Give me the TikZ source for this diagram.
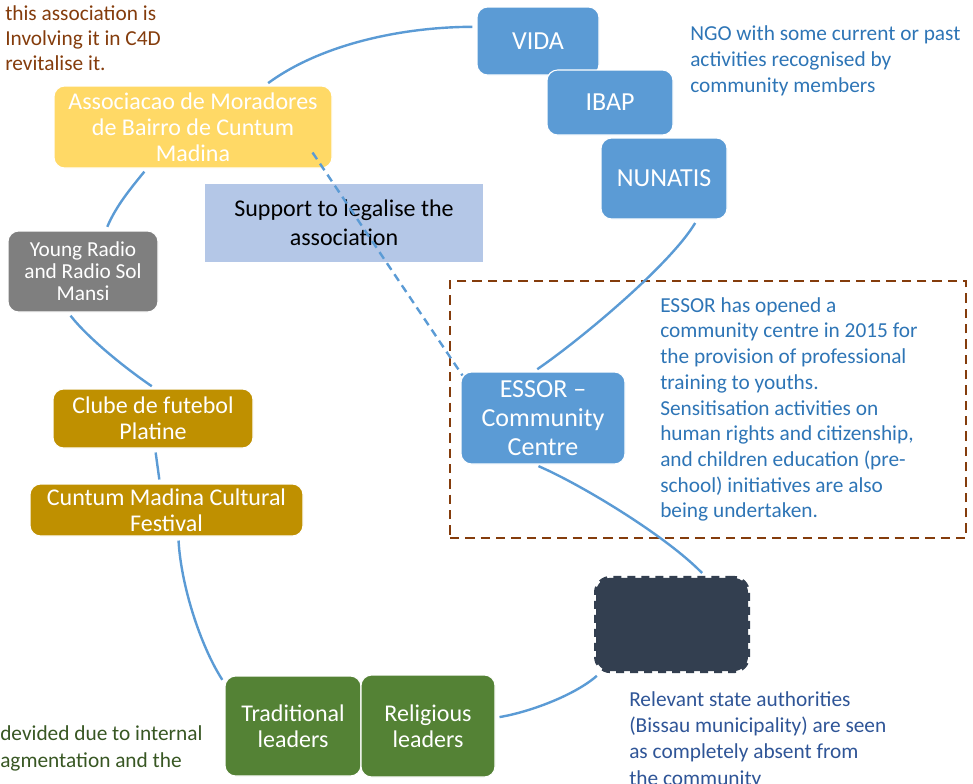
\documentclass[tikz,border=0pt]{standalone}
\usepackage{fontspec}
\setmainfont{Carlito}
\definecolor{cblue}{HTML}{5B9BD5}
\definecolor{cyel}{HTML}{FFD966}
\definecolor{csup}{HTML}{B4C7E7}
\definecolor{cgray}{HTML}{7F7F7F}
\definecolor{cgold}{HTML}{BF9000}
\definecolor{cdark}{HTML}{333F50}
\definecolor{cgreen}{HTML}{548235}
\definecolor{cbrown}{HTML}{843C0C}
\definecolor{nblue}{HTML}{2E75B6}
\definecolor{sblue}{HTML}{2F5597}
\definecolor{tgreen}{HTML}{385723}
\newcommand{\fs}[2]{\fontsize{#1}{#2}\selectfont}
\begin{document}
\begin{tikzpicture}[x=0.75pt,y=-0.75pt,
  box/.style={rounded corners=8pt, draw=white, line width=0.8pt, text=white, align=center, inner sep=0pt},
  big/.style={font=\fs{19.5}{22}},
  mid/.style={font=\fs{18}{19.5}},
  note/.style={font=\fs{16}{19.8}, align=left, inner sep=0pt, anchor=north west},
  conn/.style={draw=cblue, line width=1.8pt, shorten <=3pt, shorten >=3pt},
  dconn/.style={draw=cblue, line width=1.8pt, dash pattern=on 6pt off 4pt}]
\useasboundingbox (0,0) rectangle (973,783);

% dashed frame
\node[draw=cbrown, line width=1.8pt, dash pattern=on 7pt off 4.5pt, minimum width=387pt, minimum height=192.75pt, inner sep=0pt] (frame) at (708,409.5) {};

% nodes
\node[box, big, fill=cblue, minimum width=91.5pt, minimum height=51pt] (vida) at (538,41) {VIDA};
\node[box, big, fill=cblue, minimum width=94.5pt, minimum height=48.75pt] (ibap) at (610,102.5) {IBAP};
\node[box, big, fill=cblue, minimum width=94.5pt, minimum height=60.75pt] (nunatis) at (664,178.5) {NUNATIS};
\node[box, mid, fill=cyel, minimum width=208.5pt, minimum height=61.5pt] (assoc) at (193,127) {Associacao de Moradores\\de Bairro de Cuntum\\Madina};
\node[fill=csup, font=\fs{18}{22}, align=center, inner sep=0pt, minimum width=208.5pt, minimum height=58.5pt] (support) at (344,223) {Support to legalise the\\association};
\node[box, font=\fs{16}{16.5}, fill=cgray, minimum width=112.5pt, minimum height=60.75pt] (radio) at (83,271.5) {Young Radio\\and Radio Sol\\Mansi};
\node[box, mid, fill=cgold, minimum width=150pt, minimum height=44.25pt] (clube) at (153,418.5) {Clube de futebol\\Platine};
\node[box, mid, fill=cgold, minimum width=204.75pt, minimum height=39pt] (festival) at (166.5,510) {Cuntum Madina Cultural\\Festival};
\node[box, big, fill=cblue, minimum width=123pt, minimum height=69pt] (essor) at (543,418) {ESSOR –\\Community\\Centre};
\node[rounded corners=11pt, fill=cdark, draw=cdark, line width=3pt, dash pattern=on 6pt off 4.5pt, inner sep=0pt, minimum width=114pt, minimum height=70pt] (dark) at (672,624.5) {};
\node[box, mid, fill=cgreen, minimum width=102pt, minimum height=75pt] (trad) at (293,726) {Traditional\\leaders};
\node[box, mid, fill=cgreen, minimum width=100.5pt, minimum height=76.5pt] (relig) at (428,726) {Religious\\leaders};

% notes
\node[note, text=nblue] (ngo) at (690,25) {NGO with some current or past\\activities recognised by\\community members};
\node[note, text=nblue, font=\fs{16}{19.3}] (essornote) at (660,297) {ESSOR has opened a\\community centre in 2015 for\\the provision of professional\\training to youths.\\Sensitisation activities on\\human rights and citizenship,\\and children education (pre-\\school) initiatives are also\\being undertaken.};
\node[note, text=sblue] (statenote) at (629,691) {Relevant state authorities\\(Bissau municipality) are seen\\as completely absent from\\the community};
\node[note, text=cbrown, font=\fs{16}{18.75}] (topnote) at (5,5) {this association is\\Involving it in C4D\\revitalise it.};
\node[note, text=tgreen, font=\fs{16}{20.25}] (botnote) at (0,725) {devided due to internal\\agmentation and the};

% connectors
\draw[conn] (vida.167) .. controls (400,27) and (320,45) .. (assoc.30);
\draw[conn] (assoc.222) .. controls (131,188) and (116,206) .. (radio.61);
\draw[conn] (radio.250) .. controls (88,338) and (125,368) .. (clube.86);
\draw[conn] (clube.274) -- (festival.104);
\draw[conn] (festival.294) .. controls (181,585) and (200,645) .. (trad.148);
\draw[conn] (relig.7) .. controls (530,712) and (575,695) .. (dark.214);
\draw[conn] (dark.56) .. controls (665,535) and (580,484) .. (essor.260);
\draw[conn] (essor.101) .. controls (580,340) and (670,265) .. (nunatis.309);
\draw[dconn] ([shift={(-20,-16)}]assoc.south east) -- ([shift={(2,4)}]essor.north west);
\end{tikzpicture}
\end{document}
